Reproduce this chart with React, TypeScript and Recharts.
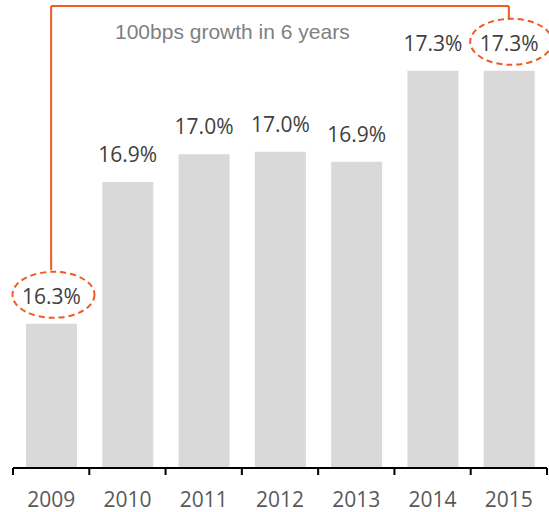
import { BarChart, Bar, XAxis, YAxis, LabelList, ReferenceLine } from 'recharts';

// years and margin values
const years = ['2009', '2010', '2011', '2012', '2013', '2014', '2015'];
const margins = [16.3, 16.86, 16.97, 16.98, 16.94, 17.3, 17.3];

const data = years.map((year, i) => ({ year, value: margins[i] }));

const title = '100bps growth in 6 years';

// bracket annotation, in value units
const bracketTop = 17.556;
const bracketLeftEnd = 16.513;
const bracketRightEnd = 17.501;

const W = 549;
const H = 512;
const M = { top: 4, right: 2, left: 13, bottom: 0 };
const band = (W - M.left - M.right) / years.length;

const ORANGE = '#F15A24';
const FONT = '"Open Sans", sans-serif';

const ValueLabel = (props: any) => {
    const { x, y, width, value, index } = props;
    const cx = x + width / 2;
    const circled = index === 0 || index === years.length - 1;
    return (
        <g>
            {circled && (
                <ellipse cx={cx + 2} cy={y - 29} rx={41} ry={23} fill="none"
                    stroke={ORANGE} strokeWidth={2} strokeDasharray="6 4" />
            )}
            <text x={cx} y={y - 20} textAnchor="middle" fontFamily={FONT} fontSize={21} fill="#404040">
                {Number(value).toFixed(1)}%
            </text>
        </g>
    );
};

const YearTick = (props: any) => {
    const { x, y, payload, index } = props;
    const axisY = y - 24;
    const half = band / 2;
    return (
        <g>
            <line x1={x - half} x2={x - half} y1={axisY} y2={axisY + 7} stroke="#000" strokeWidth={2} />
            {index === years.length - 1 && (
                <line x1={x + half} x2={x + half} y1={axisY} y2={axisY + 7} stroke="#000" strokeWidth={2} />
            )}
            <text x={x} y={y} dy="0.71em" textAnchor="middle" fontFamily={FONT} fontSize={21} fill="#595959">
                {payload.value}
            </text>
        </g>
    );
};

export default function App() {
    return (
        <div style={{ position: 'absolute', left: 0, top: 0, width: W, height: H, background: '#fff' }}>
            <BarChart width={W} height={H} data={data} margin={M}>
                <XAxis dataKey="year" height={44} interval={0} tickLine={false}
                    axisLine={{ stroke: '#000', strokeWidth: 2 }} tickSize={7} tickMargin={17}
                    tick={<YearTick />} />
                <YAxis hide domain={[15.73, 17.564]} allowDataOverflow />
                <Bar dataKey="value" fill="#D9D9D9" barSize={51} isAnimationActive={false}>
                    <LabelList dataKey="value" content={<ValueLabel />} />
                </Bar>
                <ReferenceLine segment={[{ x: '2009', y: bracketLeftEnd }, { x: '2009', y: bracketTop }]}
                    stroke={ORANGE} strokeWidth={2} ifOverflow="visible" />
                <ReferenceLine segment={[{ x: '2009', y: bracketTop }, { x: '2015', y: bracketTop }]}
                    stroke={ORANGE} strokeWidth={2} ifOverflow="visible" />
                <ReferenceLine segment={[{ x: '2015', y: bracketTop }, { x: '2015', y: bracketRightEnd }]}
                    stroke={ORANGE} strokeWidth={2} ifOverflow="visible" />
            </BarChart>
            <div style={{
                position: 'absolute', left: 115, top: 21, fontFamily: '"Liberation Sans", Arial, sans-serif',
                fontSize: 21, lineHeight: 1, color: '#7F7F7F', whiteSpace: 'nowrap'
            }}>
                {title}
            </div>
        </div>
    );
}
